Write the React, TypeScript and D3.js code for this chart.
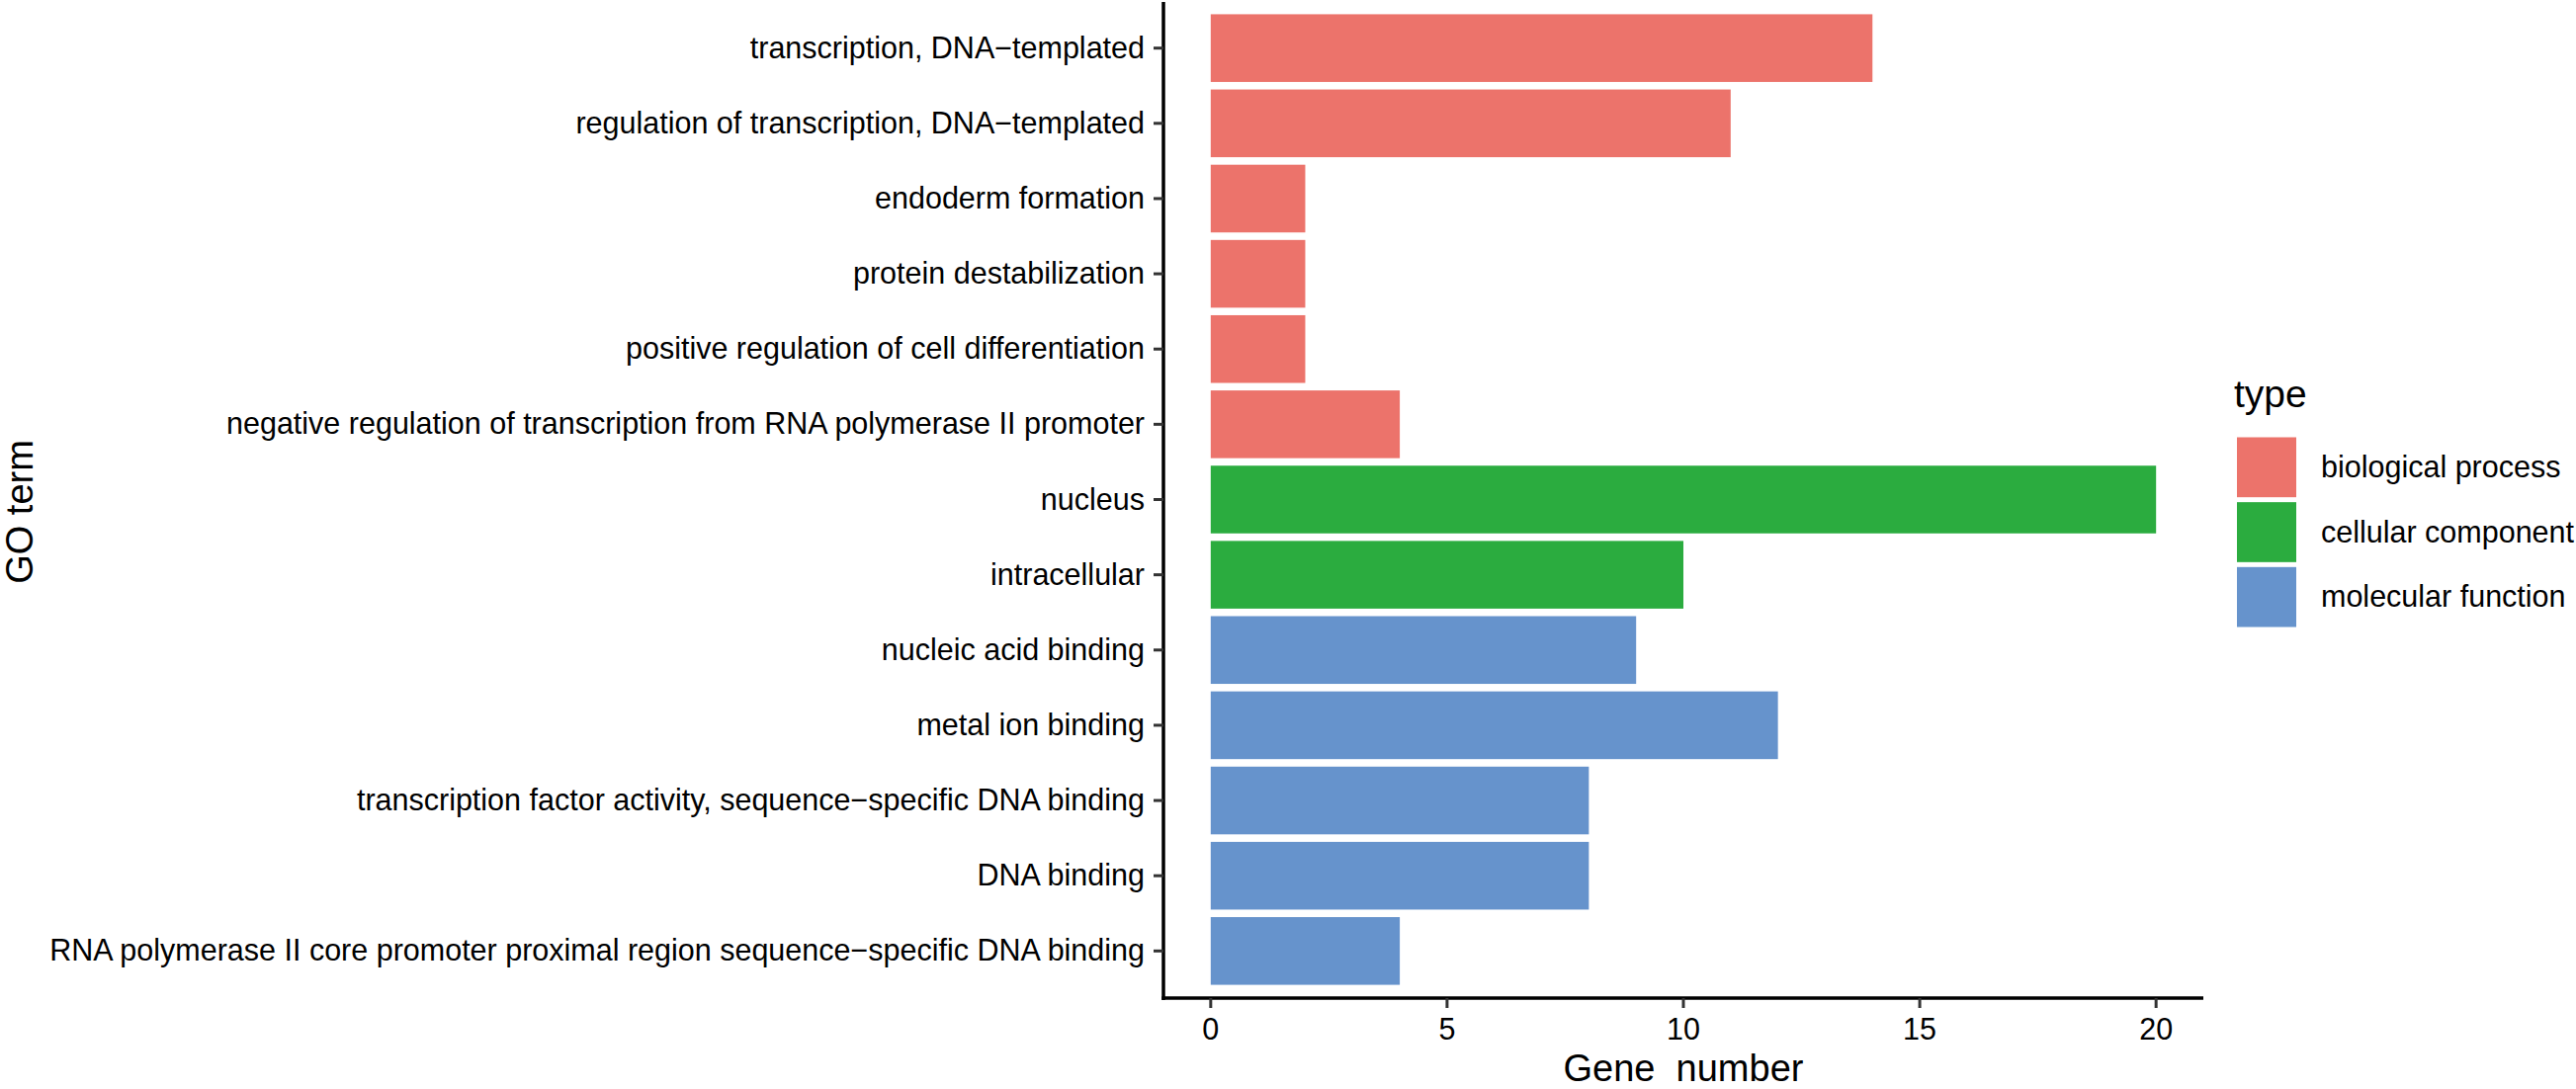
import React, { useRef, useEffect } from "react";
import * as d3 from "d3";

const terms = [
  "transcription, DNA−templated",
  "regulation of transcription, DNA−templated",
  "endoderm formation",
  "protein destabilization",
  "positive regulation of cell differentiation",
  "negative regulation of transcription from RNA polymerase II promoter",
  "nucleus",
  "intracellular",
  "nucleic acid binding",
  "metal ion binding",
  "transcription factor activity, sequence−specific DNA binding",
  "DNA binding",
  "RNA polymerase II core promoter proximal region sequence−specific DNA binding",
];
const geneCounts = [14, 11, 2, 2, 2, 4, 20, 10, 9, 12, 8, 8, 4];
const termTypes = [
  "biological process", "biological process", "biological process", "biological process",
  "biological process", "biological process",
  "cellular component", "cellular component",
  "molecular function", "molecular function", "molecular function", "molecular function", "molecular function",
];
const typeNames = ["biological process", "cellular component", "molecular function"];
const typeColors = ["#EC736B", "#2BAC3F", "#6693CC"];
const xTicks = [0, 5, 10, 15, 20];

export default function App() {
  const ref = useRef<HTMLDivElement>(null);

  useEffect(() => {
    document.body.style.margin = "0";
    if (!ref.current) return;
    const root = d3.select(ref.current);
    root.selectAll("*").remove();

    const W = 2606, H = 1102;
    const left = 1177, right = 2229, top = 3, bottom = 1008;
    const font = "'Liberation Sans', Arial, sans-serif";

    const svg = root.append("svg").attr("width", W).attr("height", H)
      .style("display", "block").style("background", "#fff");

    const x = d3.scaleLinear().domain([-1, 21]).range([left, right]);
    const y = d3.scaleBand().domain(terms).range([top, bottom]).paddingInner(0.1).paddingOuter(0.15);
    const color = d3.scaleOrdinal<string, string>().domain(typeNames).range(typeColors);

    const rows = terms.map((t, i) => ({ term: t, n: geneCounts[i], type: termTypes[i] }));

    // bars
    svg.append("g").selectAll("rect").data(rows).enter().append("rect")
      .attr("x", x(0))
      .attr("y", d => y(d.term)!)
      .attr("width", d => x(d.n) - x(0))
      .attr("height", y.bandwidth())
      .attr("fill", d => color(d.type));

    // y axis
    const yAxis = svg.append("g");
    yAxis.append("line").attr("x1", left).attr("x2", left).attr("y1", 2).attr("y2", 1012)
      .attr("stroke", "#000").attr("stroke-width", 3.5);
    yAxis.selectAll("line.tick").data(terms).enter().append("line").attr("class", "tick")
      .attr("x1", left - 10).attr("x2", left)
      .attr("y1", d => y(d)! + y.bandwidth() / 2).attr("y2", d => y(d)! + y.bandwidth() / 2)
      .attr("stroke", "#333").attr("stroke-width", 3);
    yAxis.selectAll("text").data(terms).enter().append("text")
      .attr("x", left - 19).attr("y", d => y(d)! + y.bandwidth() / 2 + 2)
      .attr("text-anchor", "end").attr("dominant-baseline", "middle")
      .style("font-family", font).style("font-size", "30.5px").style("fill", "#000")
      .text(d => d);

    // x axis
    const xAxis = svg.append("g");
    xAxis.append("line").attr("x1", left - 1.75).attr("x2", right).attr("y1", 1010).attr("y2", 1010)
      .attr("stroke", "#000").attr("stroke-width", 3.5);
    xAxis.selectAll("line.tick").data(xTicks).enter().append("line").attr("class", "tick")
      .attr("x1", d => x(d)).attr("x2", d => x(d)).attr("y1", 1010).attr("y2", 1020)
      .attr("stroke", "#333").attr("stroke-width", 3);
    xAxis.selectAll("text").data(xTicks).enter().append("text")
      .attr("x", d => x(d)).attr("y", 1052)
      .attr("text-anchor", "middle")
      .style("font-family", font).style("font-size", "30.5px").style("fill", "#000")
      .text(d => String(d));

    // axis titles
    svg.append("text")
      .attr("x", (left + right) / 2).attr("y", 1094)
      .attr("text-anchor", "middle").attr("xml:space", "preserve")
      .style("white-space", "pre")
      .style("font-family", font).style("font-size", "38px").style("fill", "#000")
      .text("Gene  number");
    svg.append("text")
      .attr("transform", "translate(33,518) rotate(-90)")
      .attr("text-anchor", "middle")
      .style("font-family", font).style("font-size", "38px").style("fill", "#000")
      .text("GO term");

    // legend
    const lg = svg.append("g");
    lg.append("text").attr("x", 2260).attr("y", 412)
      .style("font-family", font).style("font-size", "39px").style("fill", "#000")
      .text("type");
    const ky = d3.scaleBand().domain(typeNames).range([440, 637]);
    lg.selectAll("rect").data(typeNames).enter().append("rect")
      .attr("x", 2263).attr("y", d => ky(d)! + 2.5)
      .attr("width", 60).attr("height", ky.bandwidth() - 5)
      .attr("fill", d => color(d));
    lg.selectAll("text.lab").data(typeNames).enter().append("text").attr("class", "lab")
      .attr("x", 2348).attr("y", d => ky(d)! + ky.bandwidth() / 2 + 2)
      .attr("dominant-baseline", "middle")
      .style("font-family", font).style("font-size", "30.5px").style("fill", "#000")
      .text(d => d);
  }, []);

  return <div ref={ref}></div>;
}
